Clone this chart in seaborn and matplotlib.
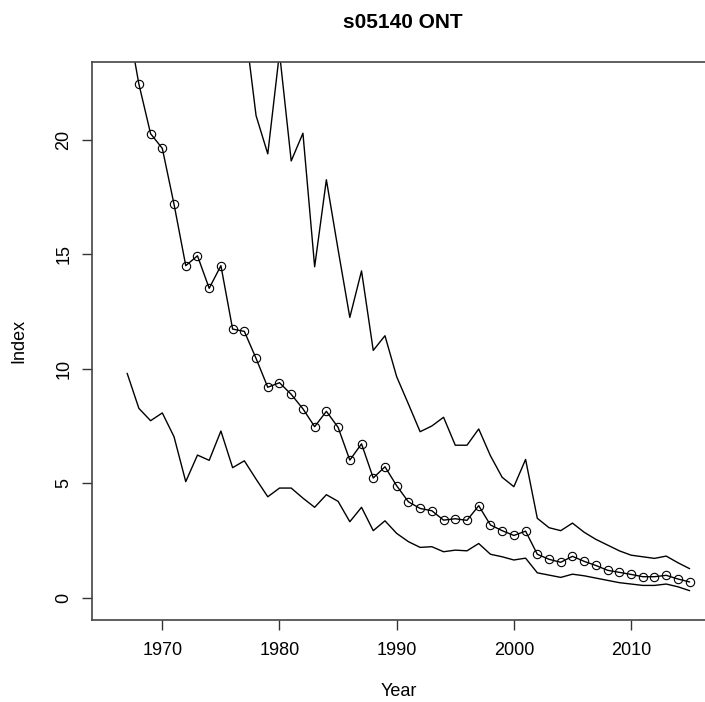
import pandas as pd
import numpy as np
import matplotlib
matplotlib.use("Agg")
import matplotlib.pyplot as plt
import seaborn as sns

years = list(range(1967, 2016))

index_mid = [25.3, 22.43, 20.26, 19.62, 17.18, 14.50, 14.93, 13.51, 14.50, 11.73,
             11.63, 10.45, 9.19, 9.39, 8.88, 8.25, 7.47, 8.14, 7.44, 6.01,
             6.72, 5.23, 5.72, 4.89, 4.19, 3.90, 3.80, 3.39, 3.45, 3.38,
             4.02, 3.18, 2.93, 2.72, 2.91, 1.90, 1.68, 1.55, 1.81, 1.59,
             1.41, 1.20, 1.11, 1.02, 0.92, 0.92, 0.98, 0.82, 0.69]

index_low = [9.80, 8.27, 7.73, 8.07, 7.03, 5.07, 6.23, 6.00, 7.28, 5.68,
             5.98, 5.18, 4.41, 4.79, 4.79, 4.35, 3.95, 4.50, 4.21, 3.32,
             3.95, 2.93, 3.36, 2.81, 2.45, 2.20, 2.23, 2.01, 2.08, 2.05,
             2.37, 1.90, 1.79, 1.65, 1.73, 1.09, 0.99, 0.89, 1.03, 0.96,
             0.86, 0.76, 0.66, 0.60, 0.54, 0.54, 0.60, 0.48, 0.31]

index_high = [42.0, 38.0, 35.0, 34.0, 30.0, 25.0, 26.0, 24.5, 26.0, 26.5,
              25.2, 21.05, 19.38, 23.8, 19.07, 20.28, 14.45, 18.25, 15.2, 12.24,
              14.27, 10.80, 11.44, 9.65, 8.46, 7.25, 7.50, 7.88, 6.66, 6.66,
              7.37, 6.20, 5.26, 4.85, 6.04, 3.47, 3.06, 2.93, 3.26, 2.86,
              2.55, 2.30, 2.05, 1.86, 1.79, 1.72, 1.82, 1.53, 1.27]

df = pd.DataFrame({"Year": years, "mid": index_mid, "low": index_low, "high": index_high})

sns.set_theme(style="white")
plt.rcParams["font.family"] = ["Liberation Sans", "DejaVu Sans"]
plt.rcParams["text.color"] = "black"
plt.rcParams["axes.labelcolor"] = "black"
plt.rcParams["xtick.color"] = "black"
plt.rcParams["ytick.color"] = "black"

fig = plt.figure(figsize=(7.05, 7.02), dpi=100)
ax = fig.add_axes([92 / 705, 1 - 620 / 702, 1 - 92 / 705, (620 - 62) / 702])

sns.lineplot(data=df, x="Year", y="high", ax=ax, color="black", linewidth=1.0)
sns.lineplot(data=df, x="Year", y="low", ax=ax, color="black", linewidth=1.0)
sns.lineplot(data=df, x="Year", y="mid", ax=ax, color="black", linewidth=1.0,
             marker="o", markersize=6, markerfacecolor="none",
             markeredgecolor="black", markeredgewidth=0.8)

ax.set_xlim(1964.0, 2016.31)
ax.set_ylim(-0.97, 23.39)
ax.set_xticks([1970, 1980, 1990, 2000, 2010])
ax.set_yticks([0, 5, 10, 15, 20])
ax.tick_params(axis="both", which="both", direction="out", length=7, width=1,
               color="#333333", labelsize=13, bottom=True, left=True)
ax.tick_params(axis="x", pad=9)
ax.tick_params(axis="y", pad=7)
for lab in ax.get_yticklabels():
    lab.set_rotation(90)
    lab.set_va("center")

for side in ["left", "bottom", "top"]:
    ax.spines[side].set_color("#444444")
    ax.spines[side].set_linewidth(1.2)
ax.spines["right"].set_visible(False)

ax.set_xlabel("Year", fontsize=13, labelpad=17)
ax.set_ylabel("Index", fontsize=13, labelpad=20)

fig.text(402.5 / 705, 1 - 22 / 702, "s05140 ONT", ha="center", va="center",
         fontsize=15, fontweight="bold")

fig.savefig("out.png", dpi=100)
